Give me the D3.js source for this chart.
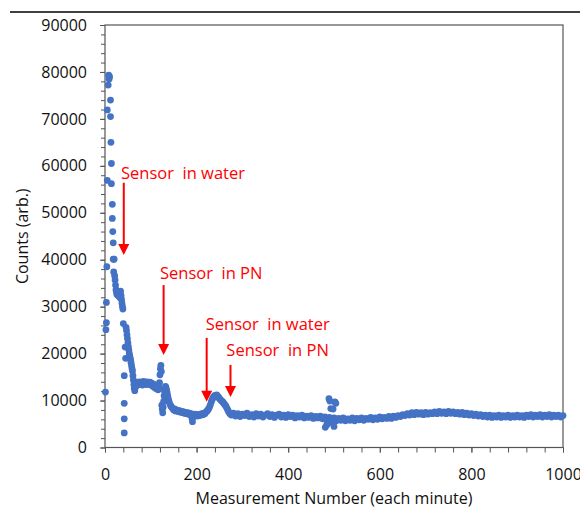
<!DOCTYPE html>
<html>
<head>
<meta charset="utf-8">
<script src="https://cdn.jsdelivr.net/npm/d3@7"></script>
<style>
  body { margin: 0; background: #fff; }
  text { font-family: "Open Sans", sans-serif; }
</style>
</head>
<body>
<script>
// readings as [measurement number, counts]
// first minutes: sensor drops from dry peak into water
var rampDown = [
  [1, 11800], [2, 25100], [3, 26600], [3, 30900], [4, 38500],
  [5, 56900], [5, 71900], [7, 77200], [8, 79300], [9, 78500], [10, 79000],
  [12, 74000], [12, 70500], [13, 65000], [14, 60500], [14, 56200],
  [16, 51800], [16, 48800], [17, 46000], [18, 43600], [18, 40100],
  [19, 37400], [20, 40100], [21, 36600], [22, 35700], [23, 34600], [24, 33600],
  [25, 33100], [26, 32600], [27, 33300], [28, 32500], [29, 33000], [30, 32200],
  [31, 33200], [32, 32600], [33, 31900], [34, 33300], [35, 32400], [36, 31600],
  [37, 30800], [38, 30100], [39, 29500], [40, 26400],
  [42, 15300], [42, 9400], [42, 6100], [42, 3100],
  [44, 21400], [45, 19000], [46, 25600], [47, 24900], [48, 24000], [49, 23200],
  [50, 22300], [51, 21500], [52, 20800], [53, 20100], [54, 19500], [55, 19100],
  [56, 18600], [57, 18000], [58, 17400], [59, 16800], [60, 16300],
  [61, 15300], [62, 14400], [63, 13400], [64, 12600], [65, 12100]
];

// water / PN exposures
var exposures = [
  [66, 12800], [68, 13600], [70, 13200], [72, 13900], [74, 13400], [76, 14000],
  [78, 13500], [80, 13800], [82, 13300], [84, 14100], [86, 13600], [88, 13900],
  [90, 13400], [92, 14000], [94, 13700], [96, 13500], [98, 13900], [100, 13300],
  [102, 13700], [104, 13100], [106, 13500], [108, 12800], [110, 13200], [112, 12500],
  [114, 12900], [116, 12300], [118, 12700], [119, 13800], [120, 15500], [121, 16800],
  [122, 17500], [123, 16200], [124, 9000], [125, 8200], [126, 7400], [127, 8600],
  [128, 9800], [129, 11000], [130, 12000], [131, 12600], [132, 13000], [133, 12800],
  [134, 12400], [135, 12000], [136, 11400], [137, 10900], [138, 10400], [139, 10000],
  [140, 9700], [142, 9200], [144, 8800], [146, 8500], [148, 8300], [150, 8000],
  [152, 8200], [154, 7800], [156, 8000], [158, 7700], [160, 7900], [162, 7600],
  [164, 7800], [166, 7500], [168, 7700], [170, 7400], [172, 7600], [174, 7300],
  [176, 7500], [178, 7200], [180, 7400], [182, 7100], [184, 7300], [186, 7000],
  [188, 7200], [190, 6200], [191, 5500], [192, 6400], [194, 6900], [196, 7100],
  [198, 6800], [200, 7000], [202, 6700], [204, 7000], [206, 6800], [208, 7100],
  [210, 6900], [212, 7200], [214, 7000], [216, 7300], [218, 7200], [220, 7500],
  [222, 7700], [224, 7900], [226, 8200], [228, 8600], [230, 9100], [232, 9700],
  [234, 10200], [236, 10600], [238, 10900], [240, 11100], [242, 11000], [244, 11200],
  [246, 10900], [248, 10700], [250, 10400], [252, 10200], [254, 10000], [256, 9800],
  [258, 9600], [260, 9300], [262, 9100], [264, 8800], [266, 8400], [268, 8000],
  [270, 7600], [272, 7300], [274, 7100], [276, 6900], [278, 7100]
];

// long run after exposures
var steadyState = [
  [280, 7300], [285, 6700], [290, 7200], [295, 6600], [300, 7100], [305, 6800],
  [310, 7300], [315, 6600], [320, 7000], [325, 6500], [330, 7200], [335, 6700],
  [340, 7100], [345, 6500], [350, 6900], [355, 7200], [360, 6600], [365, 7000],
  [370, 6400], [375, 6900], [380, 7100], [385, 6500], [390, 6900], [395, 6400],
  [400, 7000], [405, 6600], [410, 6900], [415, 6300], [420, 6800], [425, 6500],
  [430, 6900], [435, 6300], [440, 6700], [445, 6400], [450, 6800], [455, 6200],
  [460, 6600], [465, 6300], [470, 6700], [475, 6100], [480, 6500], [485, 5800],
  [490, 6400], [495, 5900], [500, 6300], [505, 5700], [510, 6200], [515, 5800],
  [520, 6300], [525, 5700], [530, 6100], [535, 5800], [540, 6300], [545, 5700],
  [550, 6200], [555, 5900], [560, 6300], [565, 5800], [570, 6200], [575, 6000],
  [580, 6400], [585, 5900], [590, 6300], [595, 6000], [600, 6500], [605, 6100],
  [610, 6400], [615, 6200], [620, 6600], [625, 6200], [630, 6700], [635, 6400],
  [640, 6800], [645, 6600], [650, 7000], [655, 6800], [660, 7200], [665, 6900],
  [670, 7400], [675, 7000], [680, 7500], [685, 7100], [690, 7400], [695, 7000],
  [700, 7500], [705, 7100], [710, 7400], [715, 7200], [720, 7600], [725, 7200],
  [730, 7700], [735, 7300], [740, 7600], [745, 7200], [750, 7700], [755, 7300],
  [760, 7600], [765, 7200], [770, 7500], [775, 7100], [780, 7500], [785, 7000],
  [790, 7300], [795, 6900], [800, 7200], [805, 6800], [810, 7100], [815, 6700],
  [820, 7000], [825, 6600], [830, 6900], [835, 6500], [840, 6900], [845, 6400],
  [850, 6800], [855, 6500], [860, 6900], [865, 6400], [870, 6800], [875, 6500],
  [880, 6900], [885, 6400], [890, 6800], [895, 6500], [900, 6900], [905, 6500],
  [910, 6800], [915, 6400], [920, 6900], [925, 6600], [930, 7000], [935, 6500],
  [940, 6900], [945, 6600], [950, 7000], [955, 6500], [960, 6900], [965, 6600],
  [970, 7000], [975, 6500], [980, 6900], [985, 6600], [990, 6900], [995, 6500],
  [1000, 6800]
];

// scattered readings around measurement 480-505
var glitch = [
  [481, 4300], [484, 4800], [486, 5100], [489, 10400], [491, 9900], [493, 8300],
  [497, 5200], [498, 8200], [500, 4500], [502, 9700], [504, 9400]
];

// annotation: label, arrow x, arrow top, arrow tip, label x, label baseline (data units)
var notes = [
  { label: "Sensor  in water", x: 41, top: 56400, tip: 41000, lx: 35, ly: 57250 },
  { label: "Sensor  in PN", x: 128, top: 34600, tip: 19700, lx: 120, ly: 35900 },
  { label: "Sensor  in water", x: 222, top: 23350, tip: 9770, lx: 220, ly: 25050 },
  { label: "Sensor  in PN", x: 274, top: 17600, tip: 10770, lx: 265, ly: 19500 }
];

var xTicks = [0, 200, 400, 600, 800, 1000];
var yTicks = [0, 10000, 20000, 30000, 40000, 50000, 60000, 70000, 80000, 90000];

var W = 580, H = 512;
var m = { left: 105, right: 17, top: 25, bottom: 64.5 };

var svg = d3.select("body").append("svg")
    .attr("width", W)
    .attr("height", H);

// page rule above the figure
svg.append("line")
  .attr("x1", 10).attr("x2", W)
  .attr("y1", 12).attr("y2", 12)
  .style("stroke", "#000")
  .style("stroke-width", 1.5);

var x = d3.scaleLinear().domain([0, 1000]).range([m.left, W - m.right]);
var y = d3.scaleLinear().domain([0, 90000]).range([H - m.bottom, m.top]);

// minor ticks
svg.append("g")
  .attr("transform", "translate(0," + (H - m.bottom) + ")")
  .call(d3.axisBottom(x).tickValues(d3.range(0, 1001, 40)).tickSize(5).tickFormat(""))
  .call(g => g.select(".domain").remove())
  .call(g => g.selectAll("line").style("stroke", "#555"));
svg.append("g")
  .attr("transform", "translate(" + m.left + ",0)")
  .call(d3.axisLeft(y).tickValues(d3.range(0, 90001, 2000)).tickSize(4).tickFormat(""))
  .call(g => g.select(".domain").remove())
  .call(g => g.selectAll("line").style("stroke", "#555"));

// major ticks + labels
svg.append("g")
  .attr("transform", "translate(0," + (H - m.bottom) + ")")
  .call(d3.axisBottom(x).tickValues(xTicks).tickSize(5).tickPadding(16).tickFormat(d3.format("d")))
  .call(g => g.select(".domain").remove())
  .call(g => g.selectAll("line").style("stroke", "#555"))
  .call(g => g.selectAll("text").style("font-family", "Open Sans").style("font-size", "16px").style("fill", "#111"));
svg.append("g")
  .attr("transform", "translate(" + m.left + ",0)")
  .call(d3.axisLeft(y).tickValues(yTicks).tickSize(5).tickPadding(13).tickFormat(d3.format("d")))
  .call(g => g.select(".domain").remove())
  .call(g => g.selectAll("line").style("stroke", "#555"))
  .call(g => g.selectAll("text").style("font-family", "Open Sans").style("font-size", "16px").style("fill", "#111"));

// plot frame
svg.append("rect")
  .attr("x", x(0)).attr("y", y(90000))
  .attr("width", x(1000) - x(0))
  .attr("height", y(0) - y(90000))
  .style("fill", "none")
  .style("stroke", "#555")
  .style("stroke-width", 1.2);

// points
var pts = rampDown.concat(exposures, steadyState, glitch);
svg.append("g").selectAll("circle")
  .data(pts)
  .enter()
  .append("circle")
    .attr("cx", d => x(d[0]))
    .attr("cy", d => y(d[1]))
    .attr("r", 3.4)
    .style("fill", "#4472C4");

// annotations
var ann = svg.append("g");
notes.forEach(function(n) {
  ann.append("text")
    .attr("x", x(n.lx))
    .attr("y", y(n.ly))
    .text(n.label)
    .style("font-family", "Open Sans")
    .style("font-size", "16.5px")
    .style("white-space", "pre")
    .style("fill", "#FF0000");
  var ax = x(n.x), tipY = y(n.tip);
  ann.append("line")
    .attr("x1", ax).attr("x2", ax)
    .attr("y1", y(n.top)).attr("y2", tipY - 10)
    .style("stroke", "#FF0000")
    .style("stroke-width", 2);
  ann.append("path")
    .attr("d", "M" + (ax - 5.5) + "," + (tipY - 11) + "L" + (ax + 5.5) + "," + (tipY - 11) + "L" + ax + "," + tipY + "Z")
    .style("fill", "#FF0000");
});

// axis titles
svg.append("text")
  .attr("x", (x(0) + x(1000)) / 2)
  .attr("y", 504)
  .attr("text-anchor", "middle")
  .text("Measurement Number (each minute)")
  .style("font-size", "16px")
  .style("fill", "#111");

svg.append("text")
  .attr("transform", "translate(28," + ((y(0) + y(90000)) / 2) + ") rotate(-90)")
  .attr("text-anchor", "middle")
  .text("Counts (arb.)")
  .style("font-size", "16px")
  .style("fill", "#111");
</script>
</body>
</html>
